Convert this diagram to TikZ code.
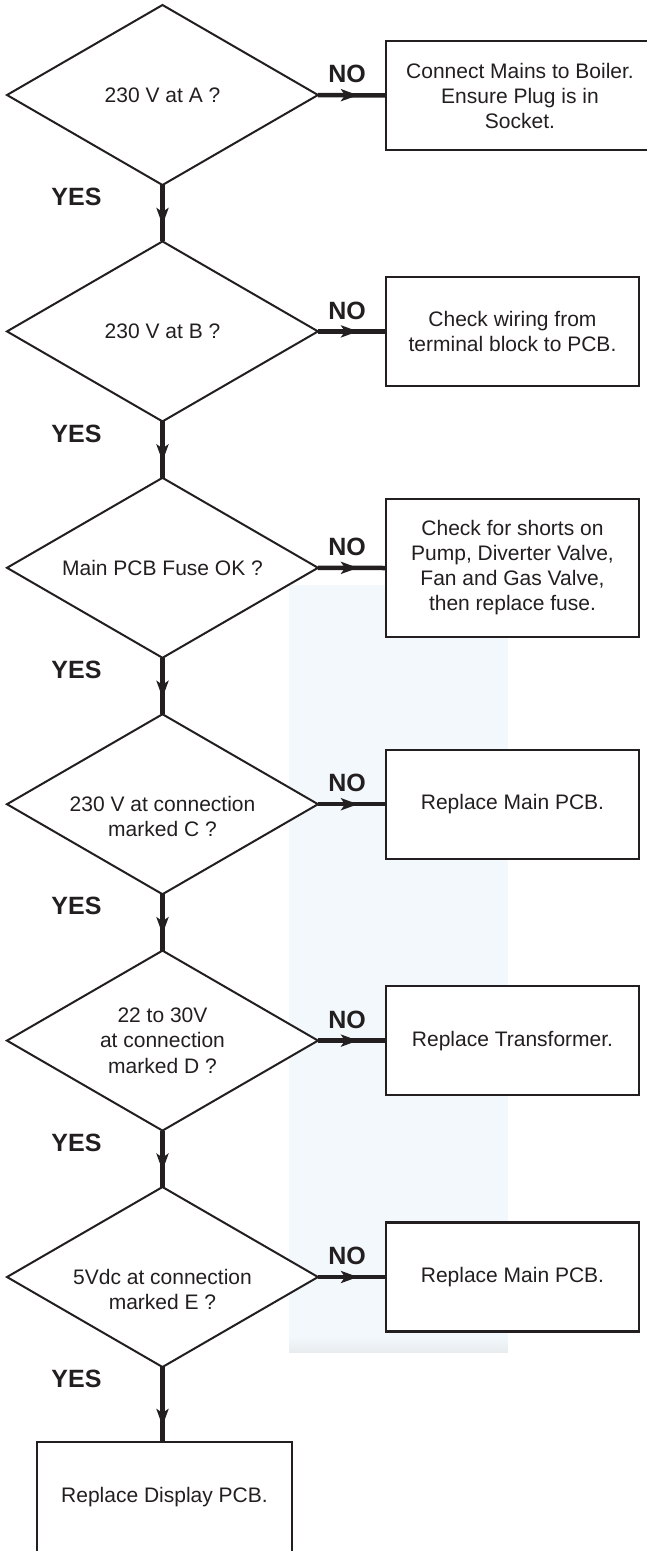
\documentclass[tikz,border=0pt]{standalone}
\usepackage{fontspec}
\setmainfont{Liberation Sans}
\usetikzlibrary{shapes.geometric,arrows.meta,decorations.markings}
\definecolor{ink}{HTML}{231F20}
\definecolor{bluebg}{HTML}{F3F8FC}
\definecolor{shadow}{HTML}{E8ECEF}
\begin{document}
\begin{tikzpicture}[x=1pt,y=-1pt,
  decision/.style={diamond, draw=ink, line width=2pt, fill=white, minimum width=311pt, minimum height=180pt, inner sep=0pt, outer sep=0pt},
  qtext/.style={align=center, font=\fontsize{21}{25.5}\selectfont, text=ink, inner sep=0pt},
  action/.style={rectangle, draw=ink, line width=2.4pt, fill=white, minimum width=253pt, minimum height=109pt, align=center, font=\fontsize{21}{25}\selectfont, text=ink, outer sep=0pt},
  lbl/.style={font=\fontsize{25}{28}\selectfont\bfseries, text=ink, inner sep=0pt},
  flow/.style={draw=ink, line width=4.5pt, postaction={decorate}, decoration={markings, mark=at position #1 with {\arrow{Stealth[length=17pt,width=12pt,inset=4pt]}}}},
  flow/.default=40pt
]
\useasboundingbox (0,0) rectangle (647,1551);
\clip (0,0) rectangle (647,1551);

% faint background panel
\fill[bluebg] (289,585) rectangle (508,1352);
\shade[top color=bluebg, bottom color=shadow] (289,1336) rectangle (508,1352);

% decisions
\node[decision] (d1) at (162.5,95) {};
\node[decision] (d2) at (162.5,331.4) {};
\node[decision] (d3) at (162.5,567.8) {};
\node[decision] (d4) at (162.5,804.2) {};
\node[decision] (d5) at (162.5,1040.6) {};
\node[decision] (d6) at (162.5,1277) {};

\node[qtext] (q1) at (d1.center) {230 V at A ?};
\node[qtext] (q2) at (d2.center) {230 V at B ?};
\node[qtext] (q3) at (d3.center) {Main PCB Fuse OK ?};
\node[qtext] (q4) at ([yshift=-12.5pt]d4.center) {230 V at connection\\marked C ?};
\node[qtext] (q5) at (d5.center) {22 to 30V\\at connection\\marked D ?};
\node[qtext] (q6) at ([yshift=-12.5pt]d6.center) {5Vdc at connection\\marked E ?};

% actions
\node[action, minimum width=268pt] (b1) at (520,95.5) {Connect Mains to Boiler.\\Ensure Plug is in\\Socket.};
\node[action] (b2) at (512.5,331.4) {Check wiring from\\terminal block to PCB.};
\node[action, minimum height=138pt] (b3) at (512.5,568) {Check for shorts on\\Pump, Diverter Valve,\\Fan and Gas Valve,\\then replace fuse.};
\node[action] (b4) at (512.5,804.2) {Replace Main PCB.};
\node[action] (b5) at (512.5,1040.6) {Replace Transformer.};
\node[action] (b6) at (512.5,1277) {Replace Main PCB.};
\node[action, minimum width=255pt, minimum height=110pt] (b7) at (164.5,1497) {Replace Display PCB.};

% connectors
\draw[flow] (d1.east) -- (b1.west);
\draw[flow] (d2.east) -- (b2.west);
\draw[flow] (d3.east) -- (b3.west);
\draw[flow] (d4.east) -- (b4.west);
\draw[flow] (d5.east) -- (b5.west);
\draw[flow] (d6.east) -- (b6.west);
\draw[flow] (d1.south) -- (d2.north);
\draw[flow] (d2.south) -- (d3.north);
\draw[flow] (d3.south) -- (d4.north);
\draw[flow] (d4.south) -- (d5.north);
\draw[flow] (d5.south) -- (d6.north);
\draw[flow=59pt] (d6.south) -- (d6.south |- b7.north);

% labels
\foreach \d in {1,...,6}{
  \node[lbl] (no\d) at ([xshift=29pt,yshift=21pt]d\d.east) {NO};
  \node[lbl] (yes\d) at ([xshift=-86pt,yshift=-12pt]d\d.south) {YES};
}
\end{tikzpicture}
\end{document}
